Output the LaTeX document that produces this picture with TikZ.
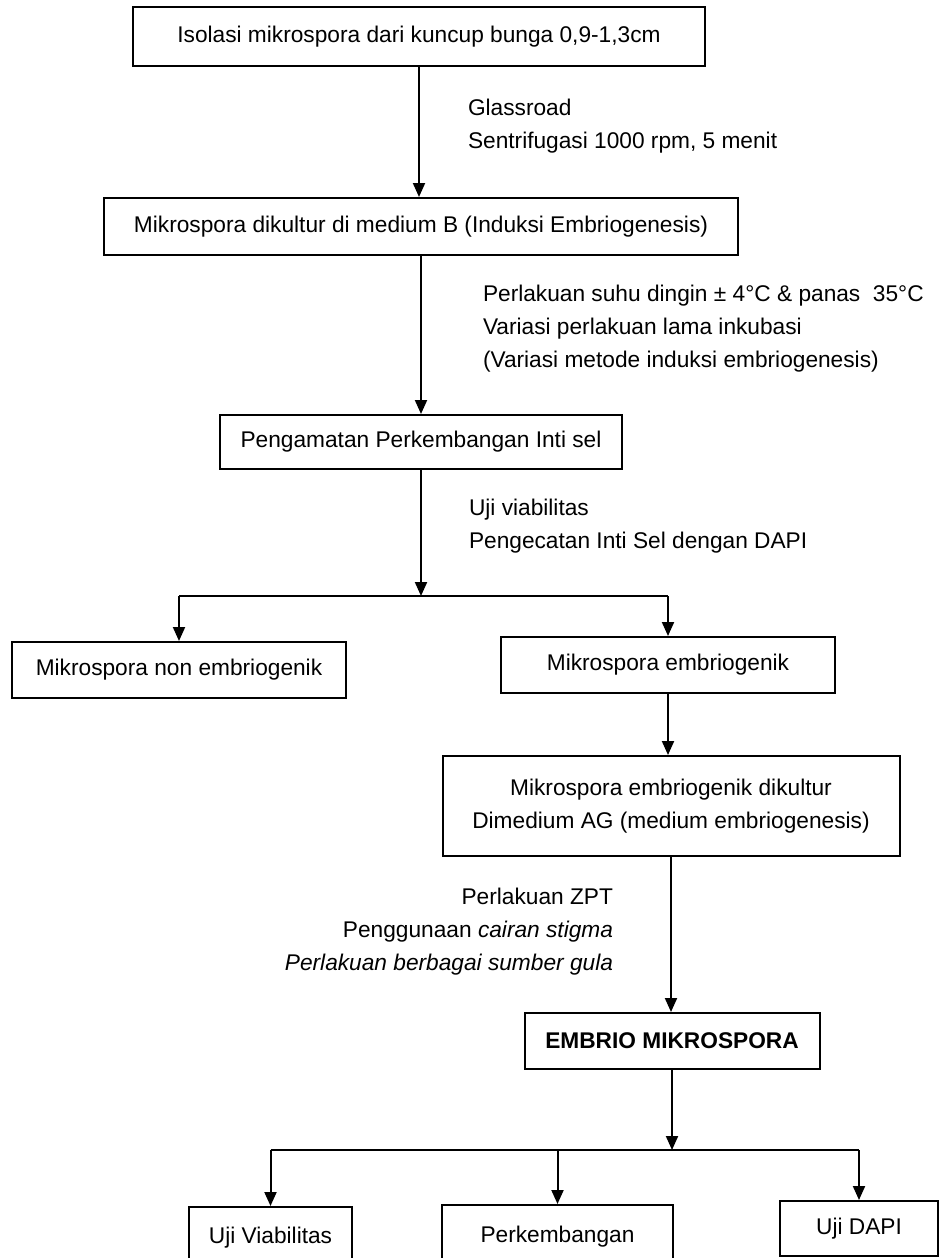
\documentclass[tikz,border=0pt]{standalone}
\usepackage{fontspec}
\setmainfont{Liberation Sans}
\usetikzlibrary{arrows,arrows.meta,positioning,calc}
\tikzset{
	block/.style = {draw, fill=white, rectangle, line width=2pt, inner sep=0pt, align=center},
	note/.style  = {inner sep=0pt, align=left},
	tmp/.style   = {coordinate}
}

\begin{document}
\begin{tikzpicture}[x=1pt,y=-1pt,>={Triangle[length=14pt,width=12pt]},line width=2pt,
	font=\fontsize{22.7}{33}\selectfont]
		\clip (0,0) rectangle (941,1258);
		\fill [white] (0,0) rectangle (941,1258);

		% main column
		\node [block, minimum width=572pt, minimum height=59pt] (A) at (419,36.5) {Isolasi mikrospora dari kuncup bunga 0,9-1,3cm};
		\node [block, minimum width=634pt, minimum height=57pt] (B) at (421,226.5) {Mikrospora dikultur di medium B (Induksi Embriogenesis)};
		\node [block, minimum width=402pt, minimum height=54pt] (C) at (421,442) {Pengamatan Perkembangan Inti sel};
		\node [block, minimum width=334pt, minimum height=56pt] (D) at (179,670) {Mikrospora non embriogenik};
		\node [block, minimum width=334pt, minimum height=56pt] (E) at (668,665) {Mikrospora embriogenik};
		\node [block, minimum width=457pt, minimum height=100pt] (F) at (671,806) {Mikrospora embriogenik dikultur\\Dimedium AG (medium embriogenesis)};
		\node [block, minimum width=295pt, minimum height=56pt] (G) at (672,1041) {\bfseries EMBRIO MIKROSPORA};
		\node [block, minimum width=163pt, minimum height=62pt] (H) at (270.5,1238) {Uji Viabilitas};
		\node [block, minimum width=231pt, minimum height=64pt] (I) at (557.5,1237) {Perkembangan};
		\node [block, minimum width=158pt, minimum height=55pt] (J) at (859,1228.5) {Uji DAPI};

		% notes beside the arrows
		\node [note, anchor=west] (nA) at (467,126.5) {Glassroad\\Sentrifugasi 1000 rpm, 5 menit};
		\node [note, anchor=west] (nB) at (482,328.5) {Perlakuan suhu dingin ± 4°C \& panas\ \ 35°C\\Variasi perlakuan lama inkubasi\\(Variasi metode induksi embriogenesis)};
		\node [note, anchor=west] (nC) at (468,526) {Uji viabilitas\\Pengecatan Inti Sel dengan DAPI};
		\node [note, anchor=east, align=right] (nF) at (614,932) {Perlakuan ZPT\\Penggunaan \textit{cairan stigma}\\\textit{Perlakuan berbagai sumber gula}};

		\node [tmp] (s1) at (423,596) {};
		\node [tmp] (s2) at (673,1150) {};

		\draw [->] (A.south) -- (A.south |- B.north);
		\draw [->] (B.south) -- (B.south |- C.north);
		\draw [->] (C.south) -- (C.south |- s1);
		\draw (D.north |- s1) -- (E.north |- s1);
		\draw [->] (D.north |- s1) -- (D.north);
		\draw [->] (E.north |- s1) -- (E.north);
		\draw [->] (E.south) -- (E.south |- F.north);
		\draw [->] (F.south) -- (F.south |- G.north);
		\draw [->] (G.south) -- (G.south |- s2);
		\draw (H.north |- s2) -- (J.north |- s2);
		\draw [->] (H.north |- s2) -- (H.north);
		\draw [->] (I.north |- s2) -- (I.north);
		\draw [->] (J.north |- s2) -- (J.north);
	\end{tikzpicture}
\end{document}
